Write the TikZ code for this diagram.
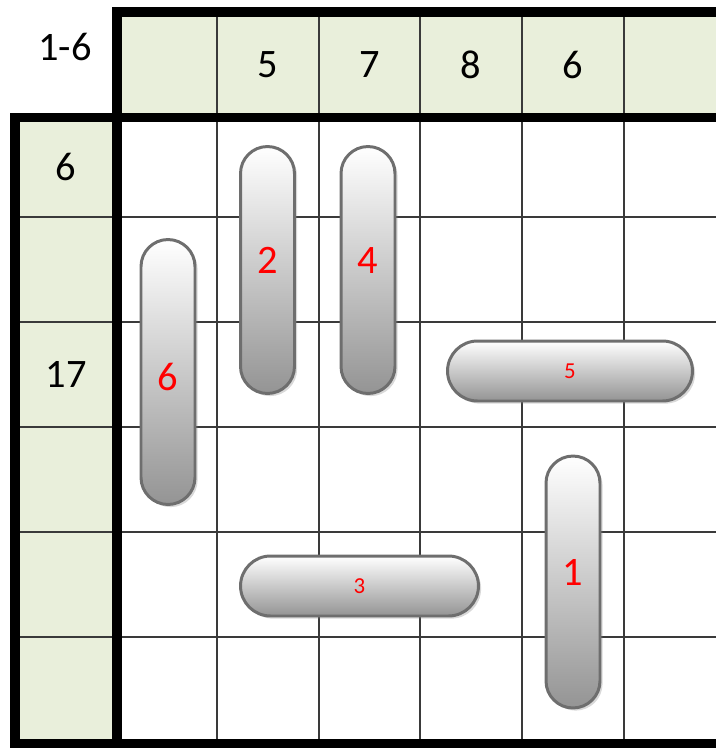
\documentclass[tikz,border=0pt]{standalone}
\usepackage{fontspec}
\setmainfont{Carlito}
\usetikzlibrary{shadows}
\definecolor{clue}{HTML}{E9EFDB}
\definecolor{rim}{HTML}{6E6E6E}
\definecolor{gridc}{HTML}{3A3A3A}
\newcommand{\bignum}{\fontsize{23}{27}\selectfont}
\newcommand{\smallnum}{\fontsize{13}{15}\selectfont}

\begin{document}
\begin{tikzpicture}[x=0.02cm, y=-0.02cm, font=\bignum,
  cell/.style={draw=gridc, line width=0.85pt},
  wall/.style={draw=black, line width=5.2pt, line join=miter},
  pill/.style={draw=rim, line width=1.7pt, rounded corners=#1, top color=white,
               bottom color=black!42, text=red, inner sep=0pt,
               drop shadow={shadow xshift=1.5pt, shadow yshift=-1.5pt, opacity=0.3}},
  vpill/.style={pill=0.54cm, minimum width=1.08cm},
  hpill/.style={pill=0.6cm, minimum height=1.2cm, font=\smallnum}]
\useasboundingbox (0,0) rectangle (716,748);
% -- clue bands
\fill[clue] (117,12) rectangle (716,117.5);
\fill[clue] (15,117.5) rectangle (117,744);
% -- thin grid
\foreach \x in {217,319,420,522,624} \draw[cell] (\x,12) -- (\x,744);
\foreach \y in {217,322,427,532,637} \draw[cell] (15,\y) -- (716,\y);
% -- thick frame
\draw[wall] (716,12) -- (117,12) -- (117,744);
\draw[wall] (716,117.5) -- (15,117.5) -- (15,744) -- (716,744);
% -- clues
\node (range) at (65,47) {1-6};
\foreach \n/\x/\v in {c1/268/5, c2/369.5/7, c3/471/8, c4/573/6}
  \node (\n) at (\x,65) {\v};
\node (r1) at (66,167) {6};
\node (r3) at (66,374.5) {17};
% -- pieces
\node[vpill, minimum height=5.3cm, text height=21.6pt] (p6) at (168,372) {6};
\node[vpill, minimum height=4.94cm, text depth=11pt] (p2) at (267.5,270) {2};
\node[vpill, minimum height=4.94cm, text depth=11pt] (p4) at (368,270) {4};
\node[vpill, minimum height=5.04cm, text depth=11pt] (p1) at (573,582) {1};
\node[hpill, minimum width=4.9cm] (p5) at (570,371) {5};
\node[hpill, minimum width=4.76cm] (p3) at (359.5,586) {3};
\end{tikzpicture}
\end{document}
